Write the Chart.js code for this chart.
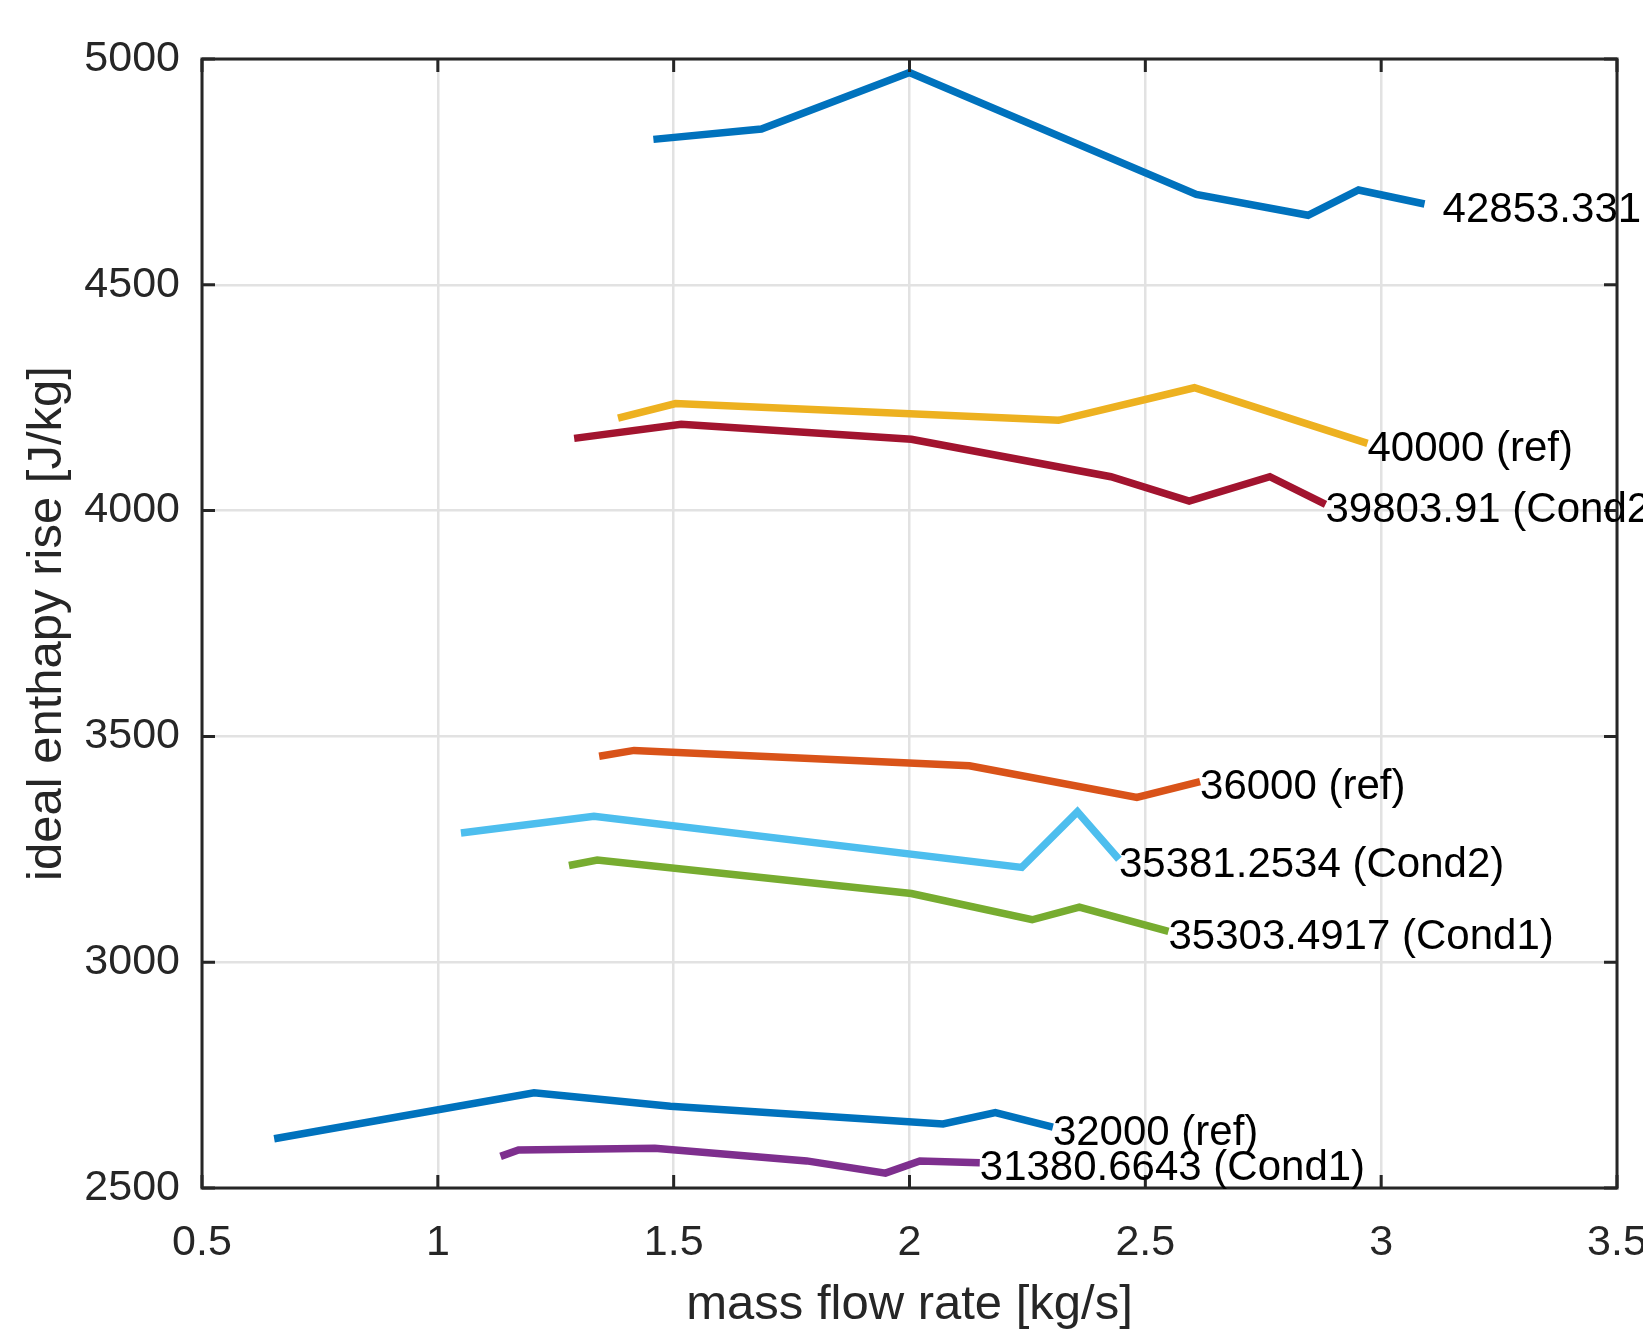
<!DOCTYPE html>
<html>
<head>
<meta charset="utf-8">
<script src="https://cdn.jsdelivr.net/npm/chart.js@4.4.0/dist/chart.umd.min.js"></script>
<style>
  html, body { margin: 0; padding: 0; background: #fff; }
  #wrap { width: 1643px; height: 1331px; }
</style>
</head>
<body>
<div id="wrap"><canvas id="grafico"></canvas></div>
<script>
// Datos (x = caudal masico, y = subida de entalpia ideal).
const x42853 = [1.457, 1.686, 2.0, 2.608, 2.845, 2.952, 3.092];
const y42853 = [4822, 4845, 4970, 4700, 4654, 4710, 4679];

const x40000 = [1.382, 1.504, 2.316, 2.604, 2.971];
const y40000 = [4205, 4237, 4200, 4272, 4149];

const x39803 = [1.289, 1.516, 2.004, 2.427, 2.593, 2.764, 2.882];
const y39803 = [4160, 4191, 4158, 4075, 4021, 4075, 4014];

const x36000 = [1.342, 1.416, 2.127, 2.482, 2.616];
const y36000 = [3456, 3469, 3435, 3365, 3400];

const x35381 = [1.049, 1.331, 2.238, 2.356, 2.444];
const y35381 = [3286, 3323, 3210, 3333, 3228];

const x35303 = [1.278, 1.338, 2.004, 2.260, 2.360, 2.549];
const y35303 = [3214, 3226, 3152, 3094, 3122, 3068];

const x32000 = [0.653, 1.204, 1.493, 2.071, 2.182, 2.304];
const y32000 = [2609, 2711, 2681, 2642, 2667, 2635];

const x31380 = [1.133, 1.171, 1.460, 1.782, 1.949, 2.022, 2.149];
const y31380 = [2570, 2584, 2588, 2560, 2533, 2560, 2556];

const etiquetas = ["42853.331", "40000 (ref)", "39803.91 (Cond2)", "36000 (ref)",
  "35381.2534 (Cond2)", "35303.4917 (Cond1)", "32000 (ref)", "31380.6643 (Cond1)"];

const xTicks = [0.5, 1, 1.5, 2, 2.5, 3, 3.5];
const yTicks = [2500, 3000, 3500, 4000, 4500, 5000];

// Colores por defecto de MATLAB.
const C = {
  azul: "#0072BD", naranja: "#D95319", amarillo: "#EDB120", morado: "#7E2F8E",
  verde: "#77AC30", cielo: "#4DBEEE", granate: "#A2142F"
};

const FUENTE = "'Liberation Sans', Arial, sans-serif";

function puntos(xs, ys) {
  return xs.map((x, i) => ({ x: x, y: ys[i] }));
}

function serie(xs, ys, color, etiqueta, dx) {
  return {
    label: etiqueta,
    data: puntos(xs, ys),
    borderColor: color,
    backgroundColor: color,
    borderWidth: 7.5,
    pointRadius: 0,
    tension: 0,
    fill: false,
    etiquetaDx: dx || 0
  };
}

// Caja de ejes estilo MATLAB con marcas hacia dentro.
const cajaEjes = {
  id: "cajaEjes",
  afterDatasetsDraw(chart) {
    const { ctx, chartArea: a, scales } = chart;
    ctx.save();
    ctx.strokeStyle = "#262626";
    ctx.lineWidth = 3;
    const L = 13;
    ctx.beginPath();
    xTicks.forEach(v => {
      const px = scales.x.getPixelForValue(v);
      ctx.moveTo(px, a.bottom); ctx.lineTo(px, a.bottom - L);
      ctx.moveTo(px, a.top); ctx.lineTo(px, a.top + L);
    });
    yTicks.forEach(v => {
      const py = scales.y.getPixelForValue(v);
      ctx.moveTo(a.left, py); ctx.lineTo(a.left + L, py);
      ctx.moveTo(a.right, py); ctx.lineTo(a.right - L, py);
    });
    ctx.stroke();
    ctx.strokeRect(a.left, a.top, a.right - a.left, a.bottom - a.top);
    ctx.restore();
  }
};

// Texto al final de cada curva.
const textoFinal = {
  id: "textoFinal",
  afterDraw(chart) {
    const { ctx, scales } = chart;
    ctx.save();
    ctx.font = "42px " + FUENTE;
    ctx.fillStyle = "#000";
    ctx.textAlign = "left";
    ctx.textBaseline = "middle";
    chart.data.datasets.forEach(ds => {
      const ult = ds.data[ds.data.length - 1];
      const px = scales.x.getPixelForValue(ult.x) + ds.etiquetaDx;
      const py = scales.y.getPixelForValue(ult.y) + 6;
      ctx.fillText(ds.label, px, py);
    });
    ctx.restore();
  }
};

new Chart(document.getElementById("grafico"), {
  type: "line",
  data: {
    datasets: [
      serie(x42853, y42853, C.azul, etiquetas[0], 18),
      serie(x40000, y40000, C.amarillo, etiquetas[1]),
      serie(x39803, y39803, C.granate, etiquetas[2]),
      serie(x36000, y36000, C.naranja, etiquetas[3]),
      serie(x35381, y35381, C.cielo, etiquetas[4]),
      serie(x35303, y35303, C.verde, etiquetas[5]),
      serie(x32000, y32000, C.azul, etiquetas[6]),
      serie(x31380, y31380, C.morado, etiquetas[7])
    ]
  },
  options: {
    responsive: true,
    maintainAspectRatio: false,
    animation: false,
    layout: { padding: { top: 59, right: 26, left: 0, bottom: 0 } },
    plugins: { legend: { display: false }, tooltip: { enabled: false } },
    scales: {
      x: {
        type: "linear",
        min: 0.5, max: 3.5,
        afterBuildTicks: s => { s.ticks = xTicks.map(v => ({ value: v })); },
        afterFit: s => { s.height = 143; s.paddingLeft = 0; s.paddingRight = 0; },
        ticks: {
          autoSkip: false, maxRotation: 0, padding: 29,
          callback: v => String(v),
          color: "#262626", font: { family: FUENTE, size: 43 }
        },
        grid: { color: "#e2e2e2", lineWidth: 2.5, drawTicks: false },
        border: { display: false },
        title: {
          display: true, text: "mass flow rate [kg/s]", color: "#262626",
          font: { family: FUENTE, size: 49, lineHeight: 1 },
          padding: { top: 0, bottom: 1 }
        }
      },
      y: {
        min: 2500, max: 5000,
        afterBuildTicks: s => { s.ticks = yTicks.map(v => ({ value: v })); },
        afterFit: s => { s.width = 202; s.paddingTop = 0; s.paddingBottom = 0; },
        ticks: {
          autoSkip: false, padding: 22,
          callback: v => String(v),
          color: "#262626", font: { family: FUENTE, size: 43 }
        },
        grid: { color: "#e2e2e2", lineWidth: 2.5, drawTicks: false },
        border: { display: false },
        title: {
          display: true, text: "ideal enthapy rise [J/kg]", color: "#262626",
          font: { family: FUENTE, size: 49, lineHeight: 1 },
          padding: { top: 23, bottom: 0 }
        }
      }
    }
  },
  plugins: [cajaEjes, textoFinal]
});
</script>
</body>
</html>
